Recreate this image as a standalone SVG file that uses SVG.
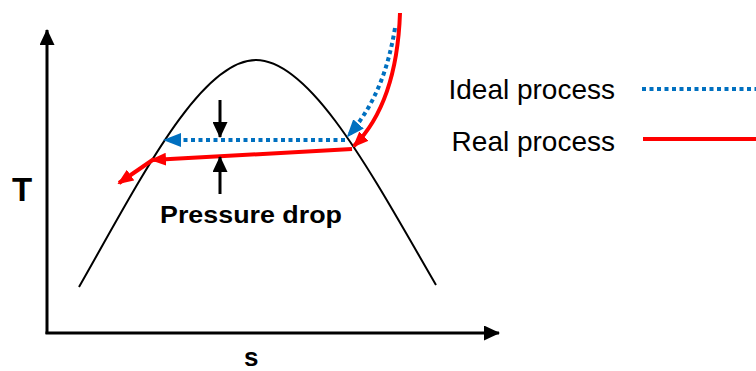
<svg xmlns="http://www.w3.org/2000/svg" width="756" height="371" viewBox="0 0 756 371">
<style>
.lbl{font-family:"Liberation Sans",Arial,sans-serif;fill:#000}
.b{font-weight:bold}
.red{stroke:#FF0000;stroke-width:4;fill:none}
.blue{stroke:#0070C0;stroke-width:4;fill:none;stroke-dasharray:4 3.5}
.blk{stroke:#000;fill:none}
</style>
<defs>
<marker id="mRed" markerUnits="userSpaceOnUse" viewBox="0 0 16 13" refX="14" refY="6.5" markerWidth="16" markerHeight="13" orient="auto">
<path d="M0,0 L16,6.5 L0,13 z" fill="#FF0000"/>
</marker>
<marker id="mBlue" markerUnits="userSpaceOnUse" viewBox="0 0 18 14" refX="16" refY="7" markerWidth="18" markerHeight="14" orient="auto">
<path d="M0,0 L18,7 L0,14 z" fill="#0070C0"/>
</marker>
<marker id="mBlk" markerUnits="userSpaceOnUse" viewBox="0 0 16 15" refX="15" refY="7.5" markerWidth="16" markerHeight="15" orient="auto">
<path d="M0,0 L16,7.5 L0,15 z" fill="#000"/>
</marker>
</defs>
<g id="axes">
<path class="blk" stroke-width="3" d="M47,334 L47,30" marker-end="url(#mBlk)"/>
<path class="blk" stroke-width="3" d="M45.5,333 L499,333" marker-end="url(#mBlk)"/>
</g>
<g id="dome">
<path class="blk" stroke-width="2" d="M79,287 C140,180 200,60 256,60 C312,60 375,180 436,285"/>
</g>
<g id="connectors">
<path class="blue" d="M395,28 C388,70 375,105 348,136" marker-end="url(#mBlue)"/>
<path class="blue" d="M345,140 L165,140" marker-end="url(#mBlue)"/>
<path class="red" d="M400,13 C398,70 385,115 354,146" marker-end="url(#mRed)"/>
<path class="red" d="M352,149 L152,160" marker-end="url(#mRed)"/>
<path class="red" d="M154,159 L119,183" marker-end="url(#mRed)"/>
<path class="blk" stroke-width="3" d="M220,100 L220,137" marker-end="url(#mBlk)"/>
<path class="blk" stroke-width="3" d="M220,194 L220,157" marker-end="url(#mBlk)"/>
</g>
<g id="labels">
<text class="lbl b" x="12" y="201" font-size="33">T</text>
<text class="lbl b" x="244" y="366" font-size="26">s</text>
<text class="lbl b" x="160" y="223" font-size="24" textLength="182" lengthAdjust="spacingAndGlyphs">Pressure drop</text>
</g>
<g id="legend">
<text class="lbl" x="615" y="99" font-size="28" text-anchor="end">Ideal process</text>
<text class="lbl" x="615" y="151" font-size="28" text-anchor="end">Real process</text>
<path class="blue" d="M642,89 L756,89"/>
<path class="red" d="M643,139 L756,139"/>
</g>
</svg>
